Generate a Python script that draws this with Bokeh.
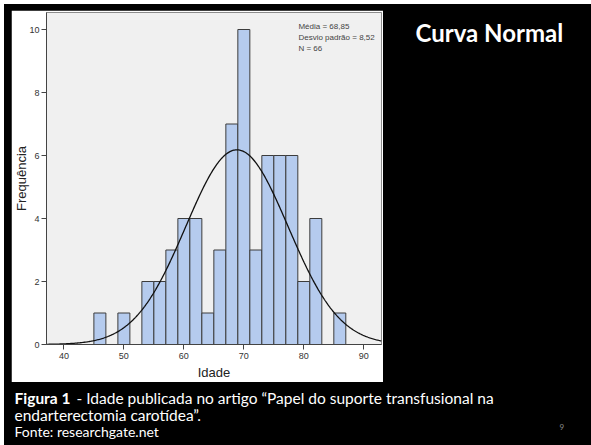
import numpy as np
from bokeh.plotting import figure
from bokeh.models import Range1d, FixedTicker, Spacer
from bokeh.layouts import row, column
from bokeh.core.properties import value
from bokeh.embed import file_html
from bokeh.resources import INLINE

# ---- data ----
bin_lefts = [45, 47, 49, 51, 53, 55, 57, 59, 61, 63, 65, 67, 69, 71, 73, 75, 77, 79, 81, 83, 85]
counts = [1, 0, 1, 0, 2, 2, 3, 4, 4, 1, 3, 7, 10, 3, 6, 6, 6, 2, 4, 0, 1]
bin_width = 2
mean_val = 68.85
sd_val = 8.52
n_total = 66
x_ticks = [40, 50, 60, 70, 80, 90]
y_ticks = [0, 2, 4, 6, 8, 10]
stats_lines = ["Média = %s" % ("%.2f" % mean_val).replace(".", ","),
               "Desvio padrão = %s" % ("%.2f" % sd_val).replace(".", ","),
               "N = %d" % n_total]

AX_FONT = "Liberation Sans"

# ---- histogram panel ----
hist = figure(frame_width=335, frame_height=332, output_backend="svg", toolbar_location=None,
              x_range=Range1d(37.1, 92.95), y_range=Range1d(0, 10.54),
              min_border_left=35, min_border_right=2, min_border_top=2, min_border_bottom=38)
hist.border_fill_color = "white"
hist.background_fill_color = "#f0f0f0"
hist.outline_line_color = "#8c8c8c"
hist.grid.visible = False

lefts = [l for l, c in zip(bin_lefts, counts) if c > 0]
rights = [l + bin_width for l, c in zip(bin_lefts, counts) if c > 0]
tops = [c for c in counts if c > 0]
hist.quad(left=lefts, right=rights, bottom=0, top=tops,
          fill_color="#b5cbee", line_color="#3c3c3c", line_width=1)

xs = np.linspace(37.1, 92.95, 400)
ys = n_total * bin_width * np.exp(-0.5 * ((xs - mean_val) / sd_val) ** 2) / (sd_val * np.sqrt(2 * np.pi))
hist.line(xs, ys, line_color="#111111", line_width=1.3)

hist.text(x=[79.1] * 3, y=[10.1, 9.74, 9.4], text=stats_lines,
          text_font=value(AX_FONT), text_font_size=value("8px"),
          text_color="#444444", text_baseline="middle", text_align="left")

for ax in (hist.xaxis[0], hist.yaxis[0]):
    ax.major_label_text_font = AX_FONT
    ax.major_label_text_font_size = "9px"
    ax.major_label_text_color = "#333333"
    ax.axis_label_text_font = AX_FONT
    ax.axis_label_text_font_size = "13px"
    ax.axis_label_text_font_style = "normal"
    ax.axis_label_text_color = "#222222"
    ax.axis_line_color = "#444444"
    ax.major_tick_line_color = "#444444"
    ax.major_tick_in = 0
    ax.major_tick_out = 5
    ax.minor_tick_line_color = None

hist.xaxis.ticker = FixedTicker(ticks=x_ticks)
hist.yaxis.ticker = FixedTicker(ticks=y_ticks)
hist.xaxis.axis_label = "Idade"
hist.yaxis.axis_label = "Frequência"
hist.xaxis.major_label_standoff = 3
hist.xaxis.axis_label_standoff = 3
hist.yaxis.major_label_standoff = 2
hist.yaxis.axis_label_standoff = -3


def text_fig(w, h):
    f = figure(width=w, height=h, output_backend="svg", toolbar_location=None,
               x_range=Range1d(0, w), y_range=Range1d(h, 0),
               x_axis_location=None, y_axis_location=None,
               min_border=0)
    f.border_fill_color = "black"
    f.background_fill_color = "black"
    f.outline_line_color = None
    f.grid.visible = False
    return f


title_fig = text_fig(208, 378)
title_fig.text(x=[32], y=[28], text=["Curva Normal"], text_font=value("Lato"),
               text_font_size=value("24px"), text_font_style="bold",
               text_color="white", text_baseline="middle", text_align="left")

CAP = "15.5px"
cap_fig = text_fig(587, 63)
cap_fig.text(x=[10], y=[15], text=["Figura 1"], text_font=value("Lato"),
             text_font_size=value(CAP), text_font_style="bold",
             text_color="white", text_baseline="middle")
cap_fig.text(x=[72], y=[15],
             text=["- Idade publicada no artigo \u201cPapel do suporte transfusional na"],
             text_font=value("Lato"), text_font_size=value(CAP),
             text_color="white", text_baseline="middle")
cap_fig.text(x=[10], y=[32], text=["endarterectomia carotídea\u201d."],
             text_font=value("Lato"), text_font_size=value(CAP),
             text_color="white", text_baseline="middle")
cap_fig.text(x=[10], y=[49], text=["Fonte: researchgate.net"],
             text_font=value("Lato"), text_font_size=value("14px"),
             text_color="white", text_baseline="middle")
cap_fig.text(x=[555], y=[44], text=["9"], text_font=value("Lato"),
             text_font_size=value("8px"), text_color="#8a8a8a", text_baseline="middle")

left_col = column(Spacer(width=372, height=6), hist, spacing=0)
top_row = row(Spacer(width=7, height=378), left_col, title_fig, spacing=0)
slide = column(top_row, cap_fig, spacing=0, styles={"background-color": "black"})
root = column(Spacer(width=591, height=4), row(Spacer(width=4, height=441), slide, spacing=0), spacing=0)

open("out.html", "w").write(file_html(root, INLINE))
